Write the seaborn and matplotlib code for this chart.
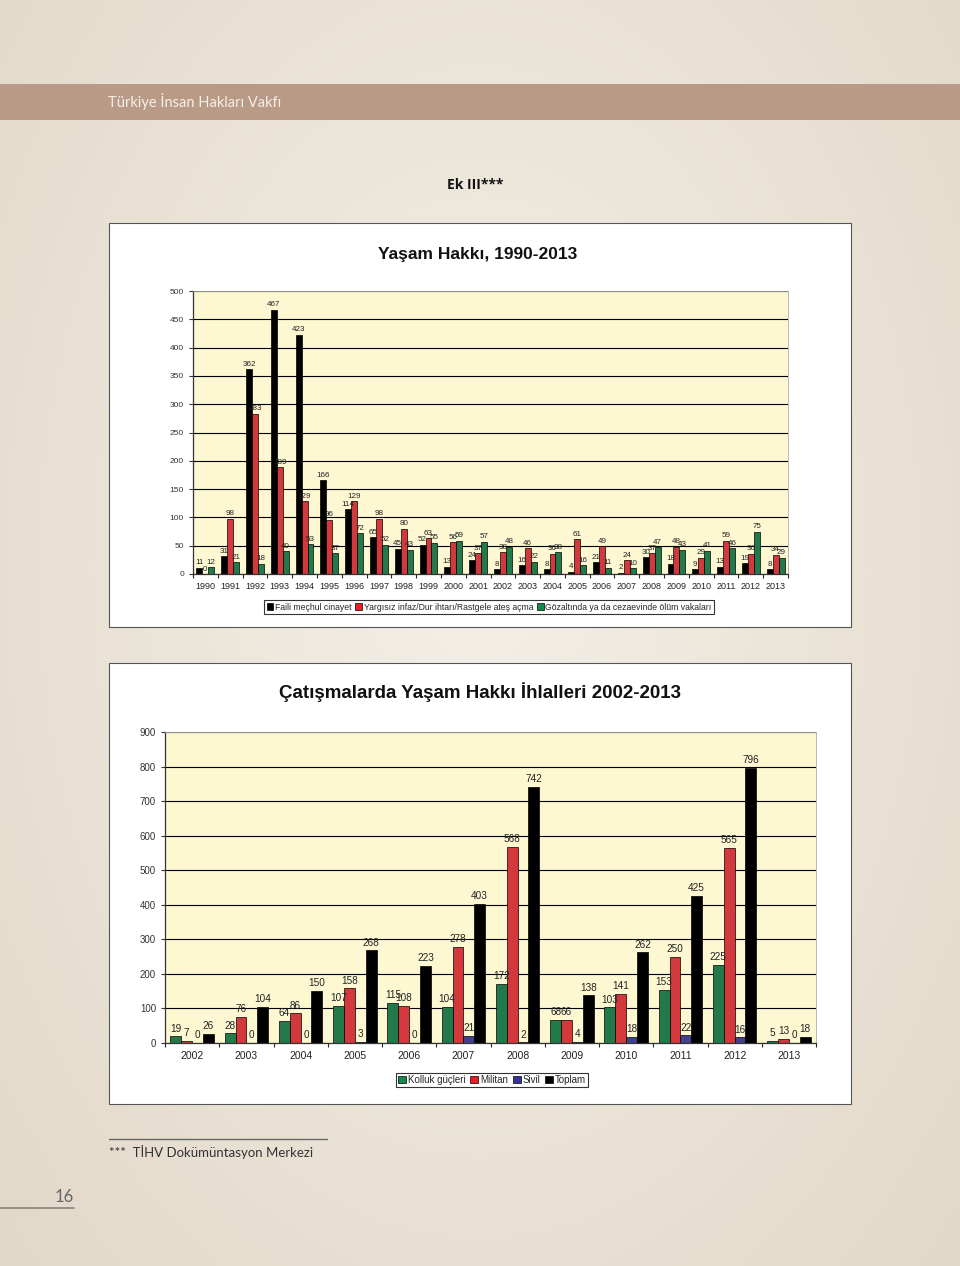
import numpy as np
import pandas as pd
import matplotlib
matplotlib.use('Agg')
import matplotlib.pyplot as plt
import seaborn as sns
from matplotlib.patches import Rectangle
from matplotlib.lines import Line2D

# Grafik 1: Yaşam Hakkı, 1990-2013
yillar1 = [str(y) for y in range(1990, 2014)]
faili_mechul = [11, 31, 362, 467, 423, 166, 114, 65, 45, 52, 13, 24, 8, 16, 8, 4, 21, 2, 30, 18, 9, 13, 19, 8]
yargisiz_infaz = [0, 98, 283, 189, 129, 96, 129, 98, 80, 63, 56, 37, 38, 46, 36, 61, 49, 24, 37, 48, 29, 59, 36, 34]
gozalti_olum = [12, 21, 18, 40, 53, 37, 72, 52, 43, 55, 59, 57, 48, 22, 38, 16, 11, 10, 47, 43, 41, 46, 75, 29]
seriler1 = ['Faili meçhul cinayet', 'Yargısız infaz/Dur ihtarı/Rastgele ateş açma',
            'Gözaltında ya da cezaevinde ölüm vakaları']

# Grafik 2: Çatışmalarda Yaşam Hakkı İhlalleri 2002-2013
yillar2 = [str(y) for y in range(2002, 2014)]
kolluk = [19, 28, 64, 107, 115, 104, 172, 68, 103, 153, 225, 5]
militan = [7, 76, 86, 158, 108, 278, 568, 66, 141, 250, 565, 13]
sivil = [0, 0, 0, 3, 0, 21, 2, 4, 18, 22, 16, 0]
toplam = [26, 104, 150, 268, 223, 403, 742, 138, 262, 425, 796, 18]
seriler2 = ['Kolluk güçleri', 'Militan', 'Sivil', 'Toplam']

renk1 = ['#000000', '#ec1e24', '#13894a']
renk2 = ['#13894a', '#ec1e24', '#33339a', '#000000']

df1 = pd.DataFrame({'yil': yillar1 * 3,
                    'deger': faili_mechul + yargisiz_infaz + gozalti_olum,
                    'seri': [s for s in seriler1 for _ in yillar1]})
df2 = pd.DataFrame({'yil': yillar2 * 4,
                    'deger': kolluk + militan + sivil + toplam,
                    'seri': [s for s in seriler2 for _ in yillar2]})

sns.set_style('white')
plt.rcParams['font.family'] = ['Liberation Sans', 'DejaVu Sans']

W, H = 960, 1266
fig = plt.figure(figsize=(W / 100, H / 100), dpi=100)


def fx(px):
    return px / W


def fy(py):
    return 1 - py / H


# sayfa arka plani (hafif gradyan)
bg = fig.add_axes([0, 0, 1, 1], zorder=-10)
yy, xx = np.mgrid[0:1:200j, 0:1:160j]
r = np.sqrt(((xx - 0.5) / 0.7) ** 2 + ((yy - 0.45) / 0.8) ** 2)
c0 = np.array([244, 240, 232]) / 255
c1 = np.array([226, 216, 200]) / 255
img = c0[None, None, :] + (c1 - c0)[None, None, :] * np.clip(r, 0, 1)[:, :, None]
bg.imshow(img, aspect='auto', extent=[0, 1, 0, 1], interpolation='bilinear')
bg.axis('off')

# ust bant
fig.patches.append(Rectangle((0, fy(120)), 1, (120 - 84) / H, transform=fig.transFigure,
                             facecolor='#b89a86', edgecolor='none', zorder=-5))
fig.text(fx(108), fy(102), 'Türkiye İnsan Hakları Vakfı', color='#f7efe8', fontsize=10.5,
         family=['Lato', 'DejaVu Sans'], va='center', ha='left')
fig.text(fx(475), fy(185), 'Ek III***', fontsize=10, fontweight='bold', ha='center', va='center',
         family=['Open Sans', 'DejaVu Sans'], color='#111')

# grafik kutulari
for (x0, y0, x1, y1) in [(109, 223, 851, 627), (109, 663, 851, 1104)]:
    fig.patches.append(Rectangle((fx(x0), fy(y1)), (x1 - x0) / W, (y1 - y0) / H,
                                 transform=fig.transFigure, facecolor='white',
                                 edgecolor='#555555', linewidth=0.8, zorder=-5))


def bicimle(ax, ymax, step, yfs, xfs):
    ax.set_facecolor('#fdf8d2')
    ax.set_ylim(0, ymax)
    ax.set_yticks(np.arange(0, ymax + 1, step))
    ax.yaxis.grid(True, color='black', linewidth=0.8)
    ax.set_axisbelow(True)
    ax.set_xlabel('')
    ax.set_ylabel('')
    ax.tick_params(axis='y', labelsize=yfs, length=3, width=0.8, direction='out', left=True,
                   colors='#333')
    ax.tick_params(axis='x', labelsize=xfs, length=0, pad=6, colors='#222')
    n = len(ax.get_xticks())
    ax.set_xticks(np.arange(-0.5, n, 1), minor=True)
    ax.tick_params(axis='x', which='minor', length=3, width=0.8, bottom=True, direction='out')
    for s in ['left', 'bottom']:
        ax.spines[s].set_color('#333')
        ax.spines[s].set_linewidth(0.9)
    for s in ['top', 'right']:
        ax.spines[s].set_color('#aaaaaa')
        ax.spines[s].set_linewidth(0.6)


# --- grafik 1 ---
ax1 = fig.add_axes([fx(193), fy(574), 595 / W, 283 / H])
sns.barplot(data=df1, x='yil', y='deger', hue='seri', hue_order=seriler1, palette=renk1,
            width=0.72, edgecolor='black', linewidth=0.5, ax=ax1, legend=False)
bicimle(ax1, 500, 50, 6, 6.5)
ax1.set_xlim(-0.5, len(yillar1) - 0.5)
for cont in ax1.containers:
    ax1.bar_label(cont, padding=1, fontsize=5.8, color='#222')
fig.text(fx(478), fy(255), 'Yaşam Hakkı, 1990-2013', fontsize=12.5, fontweight='bold',
         ha='center', va='center', color='#111')
h1 = [Rectangle((0, 0), 1, 1, facecolor=c, edgecolor='black', linewidth=0.5) for c in renk1]
fig.legend(h1, seriler1, loc='center', bbox_to_anchor=(fx(489), fy(607)), ncol=3, fontsize=6.2,
           frameon=True, fancybox=False, edgecolor='black', handlelength=0.8, handleheight=0.8,
           handletextpad=0.2, columnspacing=0.4, borderpad=0.25).get_frame().set_linewidth(0.8)

# --- grafik 2 ---
ax2 = fig.add_axes([fx(165), fy(1043), 651 / W, 311 / H])
sns.barplot(data=df2, x='yil', y='deger', hue='seri', hue_order=seriler2, palette=renk2,
            width=0.8, edgecolor='black', linewidth=0.5, ax=ax2, legend=False)
bicimle(ax2, 900, 100, 7, 7.5)
ax2.set_xlim(-0.5, len(yillar2) - 0.5)
for cont in ax2.containers:
    ax2.bar_label(cont, padding=2, fontsize=7.2, color='#222')
fig.text(fx(480), fy(692), 'Çatışmalarda Yaşam Hakkı İhlalleri 2002-2013', fontsize=13.5,
         fontweight='bold', ha='center', va='center', color='#111')
h2 = [Rectangle((0, 0), 1, 1, facecolor=c, edgecolor='black', linewidth=0.5) for c in renk2]
fig.legend(h2, seriler2, loc='center', bbox_to_anchor=(fx(492), fy(1080)), ncol=4, fontsize=7,
           frameon=True, fancybox=False, edgecolor='black', handlelength=0.8, handleheight=0.8,
           handletextpad=0.2, columnspacing=0.5, borderpad=0.25).get_frame().set_linewidth(0.8)

# dipnot ve sayfa numarasi
fig.add_artist(Line2D([fx(109), fx(327)], [fy(1139), fy(1139)], color='#666', linewidth=1,
                      transform=fig.transFigure))
fig.text(fx(109), fy(1152), '***  TİHV Dokümüntasyon Merkezi', fontsize=9.5, color='#333',
         family=['Lato', 'DejaVu Sans'], ha='left', va='center')
fig.add_artist(Line2D([0, fx(74)], [fy(1208), fy(1208)], color='#8a8278', linewidth=1.2,
                      transform=fig.transFigure))
fig.text(fx(74), fy(1197), '16', fontsize=12, color='#666', family=['Lato', 'DejaVu Sans'],
         ha='right', va='center')

fig.savefig('out.png', dpi=100)
